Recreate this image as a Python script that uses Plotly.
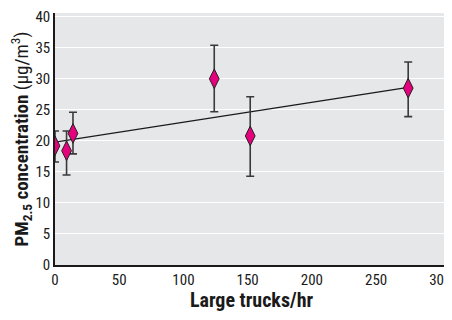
import plotly.graph_objects as go

# Data
trucks = [0, 9, 14, 124, 152, 275]
pm25 = [19.2, 18.4, 21.2, 30.0, 20.8, 28.5]
err_plus = [2.4, 3.2, 3.4, 5.4, 6.3, 4.2]
err_minus = [2.6, 3.9, 3.3, 5.3, 6.5, 4.6]
trend_x = [0, 275]
trend_y = [19.8, 28.6]
x_ticks = [0, 50, 100, 150, 200, 250, 300]
y_ticks = [0, 5, 10, 15, 20, 25, 30, 35, 40]

font_fam = "Liberation Sans Narrow, Roboto Condensed, Arial Narrow, Roboto, sans-serif"

fig = go.Figure()
fig.add_trace(go.Scatter(
    x=trend_x, y=trend_y, mode="lines",
    line=dict(color="#1a1a1a", width=1.3),
    showlegend=False, hoverinfo="skip"))
fig.add_trace(go.Scatter(
    x=trucks, y=pm25, mode="markers",
    marker=dict(symbol="diamond-tall", size=14, color="#E5007D",
                line=dict(color="#222222", width=1)),
    error_y=dict(type="data", symmetric=False, array=err_plus,
                 arrayminus=err_minus, color="#3a3a3a", thickness=1.6, width=4),
    showlegend=False))

# the page body adds an 8px offset; keep the page from scrolling
fig.update_layout(
    width=444, height=304,
    margin=dict(l=47, r=4, t=5, b=47),
    paper_bgcolor="white", plot_bgcolor="#E6E7E8",
    font=dict(family=font_fam, size=15, color="#1a1a1a"),
    xaxis=dict(range=[0, 306], tickvals=x_ticks, showgrid=False, zeroline=False,
               showline=True, linecolor="#1a1a1a", linewidth=1.5, ticks="",
               tickfont=dict(size=15), automargin=False, ticklabeloverflow="allow",
               title=dict(text="<b>Large trucks/hr</b>", font=dict(size=20), standoff=8)),
    yaxis=dict(range=[0, 40.6], tickvals=y_ticks, showgrid=True, gridcolor="white",
               gridwidth=1.2, zeroline=False,
               showline=True, linecolor="#1a1a1a", linewidth=1.5, ticks="",
               tickfont=dict(size=15), automargin=False, ticklabeloverflow="allow",
               title=dict(text="<b>PM<sub>2.5</sub> concentration</b> (\u03bcg/m<sup>3</sup>)",
                          font=dict(size=19), standoff=6)),
)

fig.write_html("out.html")
